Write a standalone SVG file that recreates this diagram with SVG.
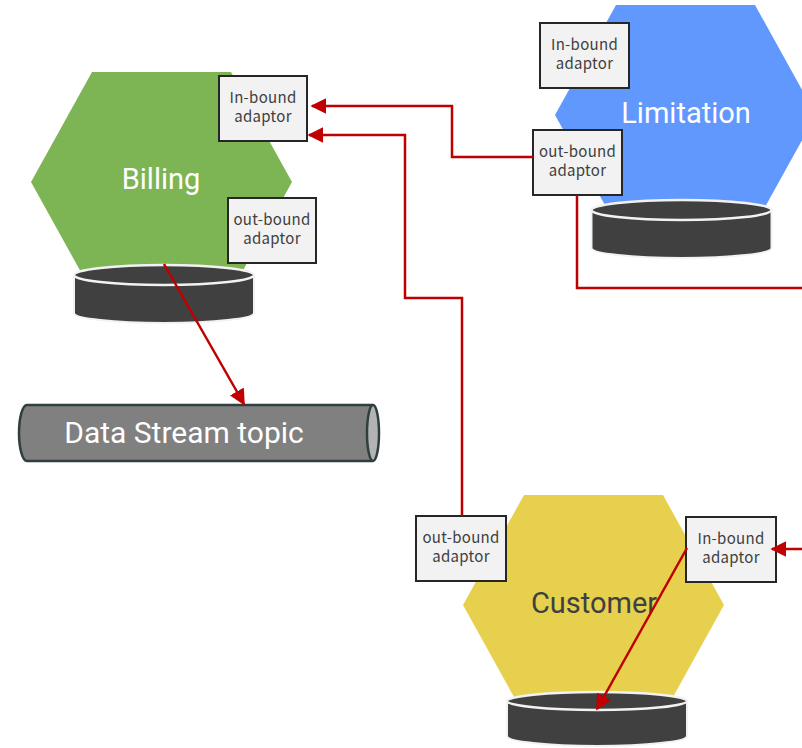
<svg xmlns="http://www.w3.org/2000/svg" width="802" height="748" viewBox="0 0 802 748">
<defs>
<style>
.hex{stroke:none}
.body{fill:#404040;stroke:#f2f2f2;stroke-width:2}
.top{fill:#404040;stroke:#f2f2f2;stroke-width:2.5}
.box{fill:#f2f2f2;stroke:#262626;stroke-width:2}
.bt{font-family:"Noto Sans CJK KR","Noto Sans",sans-serif;font-size:15px;letter-spacing:0.3px;fill:#404040;text-anchor:middle}
.big{font-family:Roboto,"Liberation Sans",sans-serif;font-size:29px;text-anchor:middle}
.con{fill:none;stroke:#c00000;stroke-width:2.5}
</style>
<marker id="ah" viewBox="0 0 10 10" refX="9" refY="5" markerWidth="6.4" markerHeight="6.4" markerUnits="strokeWidth" orient="auto">
<path d="M0,0 L10,5 L0,10 Z" fill="#c00000"/>
</marker>
</defs>
<rect width="802" height="748" fill="#ffffff"/>

<g id="billing">
<polygon class="hex" fill="#7db554" points="31,182 92,72 231,72 292,182 231,292 92,292"/>
<text class="big" x="161" y="189" fill="#ffffff">Billing</text>
<path class="body" d="M74,275 L74,313 A90,10 0 0 0 254,313 L254,275 Z"/>
<ellipse class="top" cx="164" cy="275" rx="90" ry="10"/>
</g>
<g id="billing-inbound">
<rect class="box" x="219" y="76" width="88" height="65"/>
<text class="bt" x="263" y="103">In-bound</text>
<text class="bt" x="263" y="122">adaptor</text>
</g>
<g id="billing-outbound">
<rect class="box" x="228" y="198" width="88" height="65"/>
<text class="bt" x="272" y="225">out-bound</text>
<text class="bt" x="272" y="244">adaptor</text>
</g>

<g id="limitation">
<polygon class="hex" fill="#6198fe" points="555,115 616,5 755,5 816,115 755,225 616,225"/>
<text class="big" x="686" y="123" fill="#ffffff">Limitation</text>
<path class="body" d="M591.5,210 L591.5,248 A90,10 0 0 0 771.5,248 L771.5,210 Z"/>
<ellipse class="top" cx="681.5" cy="210" rx="90" ry="10"/>
</g>
<g id="limitation-inbound">
<rect class="box" x="540" y="23" width="89" height="65"/>
<text class="bt" x="584.5" y="50">In-bound</text>
<text class="bt" x="584.5" y="69">adaptor</text>
</g>
<g id="limitation-outbound">
<rect class="box" x="533" y="130" width="89" height="65"/>
<text class="bt" x="577.5" y="157">out-bound</text>
<text class="bt" x="577.5" y="176">adaptor</text>
</g>

<g id="topic">
<path d="M373,405 L27,405 A8,28 0 0 0 27,461 L373,461" fill="#808080" stroke="#2f3f3f" stroke-width="2.5"/>
<ellipse cx="373" cy="433" rx="6" ry="28" fill="#b3b3b3" stroke="#2f3f3f" stroke-width="2.5"/>
<text class="big" x="184" y="443" fill="#ffffff" style="font-size:30px">Data Stream topic</text>
</g>

<g id="customer">
<polygon class="hex" fill="#e6d04e" points="463,605 524,495 663,495 724,605 663,715 524,715"/>
<text class="big" x="594" y="613" fill="#404040">Customer</text>
<path class="body" d="M507,701 L507,736 A90,10 0 0 0 687,736 L687,701 Z"/>
<ellipse class="top" cx="597" cy="701" rx="90" ry="9"/>
</g>
<g id="customer-outbound">
<rect class="box" x="416" y="516" width="90" height="65"/>
<text class="bt" x="461" y="543">out-bound</text>
<text class="bt" x="461" y="562">adaptor</text>
</g>
<g id="customer-inbound">
<rect class="box" x="686" y="517" width="90" height="65"/>
<text class="bt" x="731" y="544">In-bound</text>
<text class="bt" x="731" y="563">adaptor</text>
</g>

<g id="connectors">
<polyline class="con" points="533,157 452,157 452,106 312,106" marker-end="url(#ah)"/>
<polyline class="con" points="462,516 462,298 405,298 405,135 309,135" marker-end="url(#ah)"/>
<polyline class="con" points="577,195 577,288 802,288"/>
<line class="con" x1="164" y1="264" x2="244" y2="404" marker-end="url(#ah)"/>
<line class="con" x1="802" y1="549" x2="772" y2="549" marker-end="url(#ah)"/>
<line class="con" x1="687" y1="548" x2="597" y2="709" marker-end="url(#ah)"/>
</g>
</svg>
